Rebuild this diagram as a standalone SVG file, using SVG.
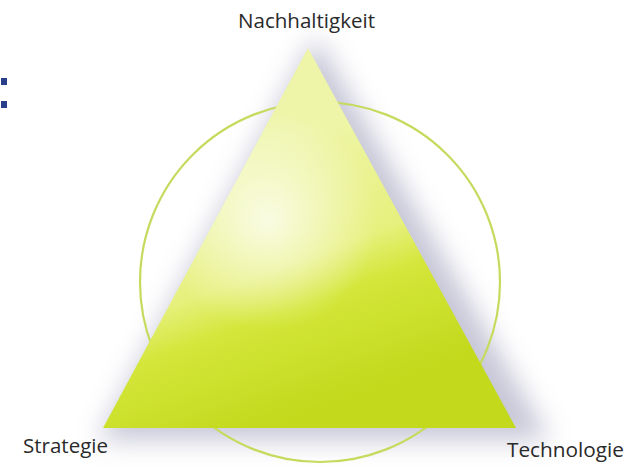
<svg xmlns="http://www.w3.org/2000/svg" width="631" height="469" viewBox="0 0 631 469">
<style>
.lbl{font-family:"Open Sans","Liberation Sans",sans-serif;font-size:20px;font-weight:500;fill:#2a2a2a;}
.sq{fill:#2a3f8a;}
</style>
<defs>
<filter id="blur" x="-30%" y="-30%" width="160%" height="160%"><feGaussianBlur stdDeviation="13"/></filter>
<linearGradient id="tri" x1="250" y1="150" x2="340" y2="400" gradientUnits="userSpaceOnUse">
<stop offset="0" stop-color="#eef5a8"/>
<stop offset="0.45" stop-color="#e6f07c"/>
<stop offset="0.62" stop-color="#d4e63a"/>
<stop offset="1" stop-color="#c2d91c"/>
</linearGradient>
<radialGradient id="hl" cx="268" cy="220" r="110" gradientUnits="userSpaceOnUse">
<stop offset="0" stop-color="#ffffff" stop-opacity="0.75"/>
<stop offset="0.6" stop-color="#ffffff" stop-opacity="0.3"/>
<stop offset="1" stop-color="#ffffff" stop-opacity="0"/>
</radialGradient>
</defs>
<rect width="631" height="469" fill="#ffffff"/>
<g id="squares">
<rect class="sq" x="1" y="78" width="6" height="7"/>
<rect class="sq" x="1" y="101" width="6" height="7"/>
</g>
<g id="shadow">
<polygon points="316,36 98,440 550,440" fill="#b4b4ca" opacity="0.75" filter="url(#blur)"/>
</g>
<g id="circle">
<circle cx="320" cy="282" r="180" fill="none" stroke="#c6da5e" stroke-width="2.2"/>
</g>
<g id="triangle">
<polygon points="308,48 103,428 516,428" fill="url(#tri)"/>
<polygon points="308,48 103,428 516,428" fill="url(#hl)"/>
</g>
<g id="labels">
<text class="lbl" x="238" y="28" textLength="137" lengthAdjust="spacingAndGlyphs">Nachhaltigkeit</text>
<text class="lbl" x="23" y="453" textLength="85" lengthAdjust="spacingAndGlyphs">Strategie</text>
<text class="lbl" x="507" y="457" textLength="117" lengthAdjust="spacingAndGlyphs">Technologie</text>
</g>
</svg>
